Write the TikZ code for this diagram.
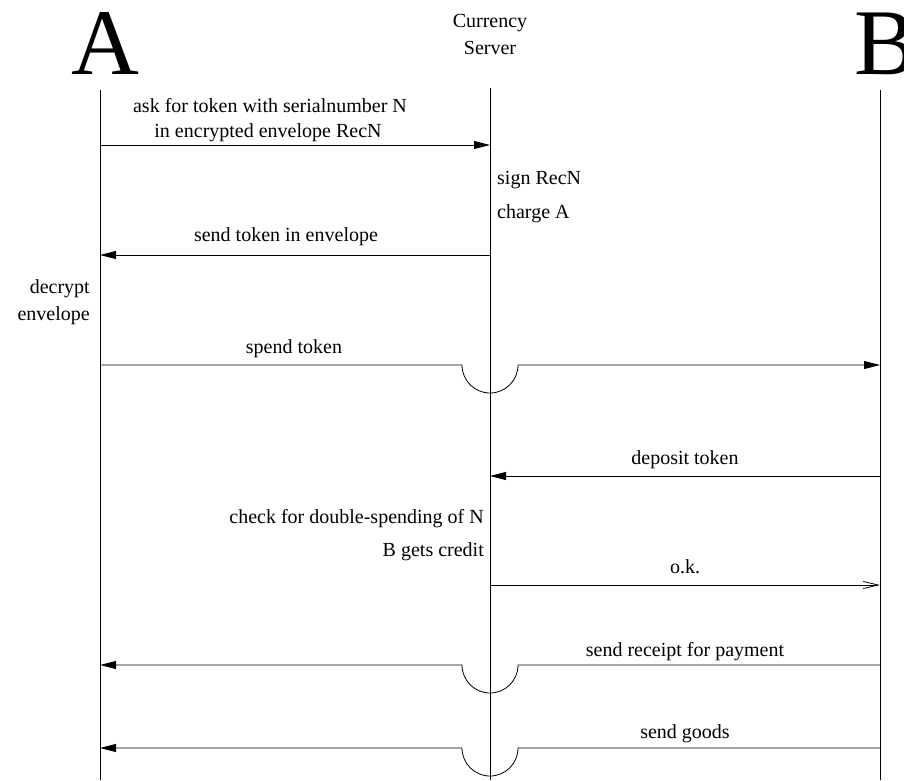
\documentclass[tikz,border=0pt]{standalone}
\usepackage{fontspec}
\setmainfont{Liberation Serif}
\usetikzlibrary{arrows.meta}
\begin{document}
\begin{tikzpicture}[x=1pt,y=-1pt,
  life/.style={line width=0.8pt},
  msg/.style={line width=0.8pt,-{Triangle[length=16pt,width=8pt]}},
  openmsg/.style={line width=0.8pt,-{Straight Barb[length=15pt,width=7pt,line width=0.8pt]}},
  lbl/.style={font=\fontsize{20}{20}\selectfont,inner sep=0pt,anchor=base},
  big/.style={font=\fontsize{94}{94}\selectfont,inner sep=0pt,anchor=base}]
\useasboundingbox (0,0) rectangle (904,780);
% actors
\node[big] (nA) at (105,74) {A};
\node[big] (nB) at (886,74) {B};
\node[lbl] (nC1) at (490,27) {Currency};
\node[lbl] (nC2) at (490,54) {Server};
% lifelines
\coordinate (At) at (100,90); \coordinate (Ab) at (100,780);
\coordinate (St) at (490,88); \coordinate (Sb) at (490,780);
\coordinate (Bt) at (880,90); \coordinate (Bb) at (880,780);
\draw[life] (At) -- (Ab);
\draw[life] (St) -- (Sb);
\draw[life] (Bt) -- (Bb);
% message endpoints
\coordinate (a1) at (100,145); \coordinate (s1) at (490,145);
\coordinate (s3) at (490,255); \coordinate (a3) at (100,255);
\coordinate (a5) at (100,365); \coordinate (h5) at (462,365); \coordinate (b5) at (880,365);
\coordinate (b6) at (880,476); \coordinate (s6) at (490,476);
\coordinate (s8) at (490,585); \coordinate (b8) at (880,585);
\coordinate (b9) at (880,665); \coordinate (h9) at (518,665); \coordinate (a9) at (100,665);
\coordinate (b10) at (880,748); \coordinate (h10) at (518,748); \coordinate (a10) at (100,748);
% messages
\draw[msg] (a1) -- (s1);
\node[lbl] (l1a) at (270,112) {ask for token with serialnumber N};
\node[lbl] (l1b) at (268,137) {in encrypted envelope RecN};
\node[lbl,anchor=base west] (l2a) at (497,184) {sign RecN};
\node[lbl,anchor=base west] (l2b) at (497,218) {charge A};
\draw[msg] (s3) -- (a3);
\node[lbl] (l3) at (286,241) {send token in envelope};
\node[lbl,anchor=base east] (l4a) at (90,293) {decrypt};
\node[lbl,anchor=base east] (l4b) at (90,320) {envelope};
\draw[msg] (a5) -- (h5) arc[start angle=180,end angle=0,radius=28] -- (b5);
\node[lbl] (l5) at (294,353) {spend token};
\draw[msg] (b6) -- (s6);
\node[lbl] (l6) at (685,464) {deposit token};
\node[lbl,anchor=base east] (l7a) at (484,523) {check for double-spending of N};
\node[lbl,anchor=base east] (l7b) at (484,556) {B gets credit};
\draw[openmsg] (s8) -- (b8);
\node[lbl] (l8) at (685,573) {o.k.};
\draw[msg] (b9) -- (h9) arc[start angle=0,end angle=180,radius=28] -- (a9);
\node[lbl] (l9) at (685,656) {send receipt for payment};
\draw[msg] (b10) -- (h10) arc[start angle=0,end angle=180,radius=28] -- (a10);
\node[lbl] (l10) at (685,738) {send goods};
\end{tikzpicture}
\end{document}
